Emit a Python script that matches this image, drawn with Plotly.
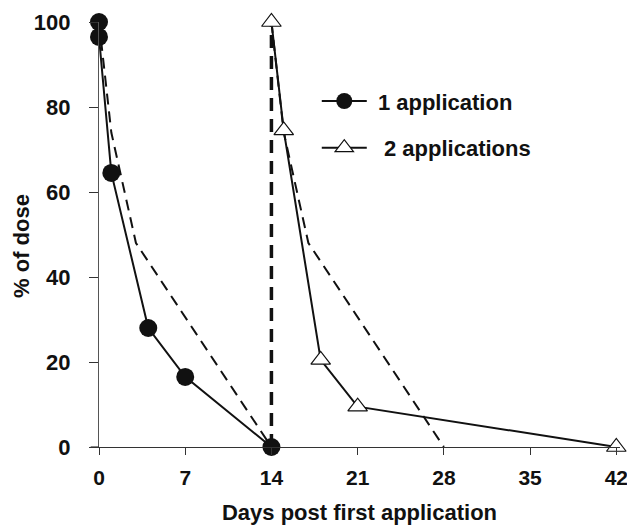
import plotly.graph_objects as go

# Data
one_app_days = [0, 0, 1, 4, 7, 14]
one_app_pct = [100, 96.5, 64.5, 28, 16.5, 0]

two_app_days = [14, 15, 18, 21, 42]
two_app_pct = [100, 74.5, 20.5, 9.5, 0]

model1_days = [0, 1, 3, 14]
model1_pct = [100, 74, 48, 0]

model2_days = [14, 15, 17, 28]
model2_pct = [100, 74, 48, 0]

second_app_day = [14, 14]
second_app_pct = [0, 100]

x_ticks = [0, 7, 14, 21, 28, 35, 42]
y_ticks = [0, 20, 40, 60, 80, 100]

INK = "#111111"
FONT = "Liberation Sans, Arial, Helvetica, sans-serif"

fig = go.Figure()

fig.add_trace(go.Scatter(x=model1_days, y=model1_pct, mode="lines",
                         line=dict(color=INK, width=2, dash="11px,7px"),
                         showlegend=False, cliponaxis=False, hoverinfo="skip"))
fig.add_trace(go.Scatter(x=model2_days, y=model2_pct, mode="lines",
                         line=dict(color=INK, width=2, dash="11px,7px"),
                         showlegend=False, cliponaxis=False, hoverinfo="skip"))
fig.add_trace(go.Scatter(x=second_app_day, y=second_app_pct, mode="lines",
                         line=dict(color=INK, width=3.5, dash="13px,8px"),
                         showlegend=False, cliponaxis=False, hoverinfo="skip"))

fig.add_trace(go.Scatter(x=one_app_days, y=one_app_pct, mode="lines+markers",
                         name=" 1 application", legendgroup="a",
                         line=dict(color=INK, width=2),
                         marker=dict(symbol="circle", size=18, color=INK),
                         cliponaxis=False))
fig.add_trace(go.Scatter(x=two_app_days, y=two_app_pct, mode="lines+markers",
                         name="  2 applications", legendgroup="b",
                         line=dict(color=INK, width=2),
                         marker=dict(symbol="triangle-up", size=17, color="white",
                                     line=dict(color=INK, width=1.2)),
                         cliponaxis=False))

fig.update_layout(
    width=627, height=525,
    margin=dict(l=99, r=7, t=22, b=78, autoexpand=False),
    paper_bgcolor="white", plot_bgcolor="white",
    font=dict(family=FONT, size=21, color=INK, weight="bold"),
    showlegend=True,
    legend=dict(x=0.418, y=0.863, xanchor="left", yanchor="top",
                bgcolor="rgba(0,0,0,0)", font=dict(size=22, weight="bold"),
                traceorder="grouped", tracegroupgap=15, itemwidth=45),
    annotations=[dict(text="% of dose", xref="paper", yref="paper",
                      x=-0.1478, y=0.473, xanchor="center", yanchor="middle",
                      textangle=-90, showarrow=False,
                      font=dict(size=22, weight="bold", color=INK))],
)

fig.update_xaxes(range=[0, 42.3], tickvals=x_ticks, ticktext=[str(v) for v in x_ticks],
                 automargin=False, ticklabeloverflow="allow",
                 showgrid=False, zeroline=False, showline=True, linecolor="#333",
                 linewidth=1.2, ticks="outside", ticklen=7, tickcolor="#333",
                 ticklabelstandoff=5,
                 tickfont=dict(size=21, weight="bold"),
                 title=dict(text="Days post first application",
                            font=dict(size=22, weight="bold"), standoff=20))
fig.update_yaxes(range=[0, 100], tickvals=y_ticks, ticktext=[str(v) for v in y_ticks],
                 automargin=False, ticklabeloverflow="allow",
                 showgrid=False, zeroline=False, showline=True, linecolor="#555",
                 linewidth=1.2, ticks="outside", ticklen=9, tickcolor="#333",
                 ticklabelstandoff=14,
                 tickfont=dict(size=22, weight="bold"))

# short extension of the x axis line to the left of the y axis
fig.add_shape(type="line", xref="paper", yref="y", x0=-0.016, x1=0, y0=0, y1=0,
              line=dict(color="#333", width=1.2))

fig.write_html("out.html", config={"displayModeBar": False},
               post_script="document.body.style.margin='0px';")
